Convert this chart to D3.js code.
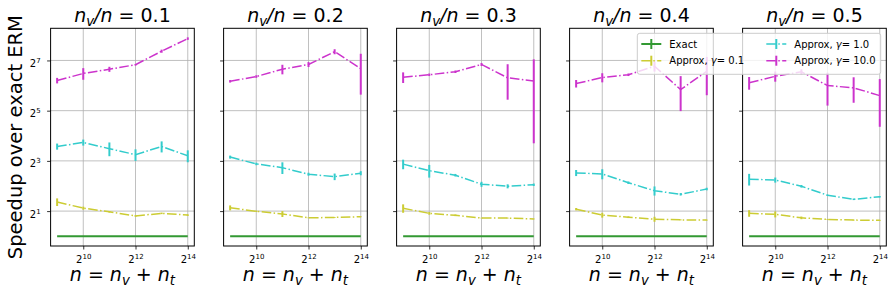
<!DOCTYPE html>
<html>
<head>
<meta charset="utf-8">
<script src="https://cdn.jsdelivr.net/npm/d3@7"></script>
<style>
  body { margin: 0; background: #fff; }
  svg { display: block; font-family: "DejaVu Sans", sans-serif; }
  svg text { font-family: "DejaVu Sans", sans-serif; }
</style>
</head>
<body>
<div id="chart"></div>
<script>
// n = n_v + n_t
var sizes = [512, 1024, 2048, 4096, 8192, 16384];
var ratios = ['0.1', '0.2', '0.3', '0.4', '0.5'];
var xTicks = [1024, 4096, 16384];
var yTicks = [2, 8, 32, 128];

// speedup over exact ERM, one row per n_v/n panel
var exactMean = [
  [1, 1, 1, 1, 1, 1], [1, 1, 1, 1, 1, 1], [1, 1, 1, 1, 1, 1],
  [1, 1, 1, 1, 1, 1], [1, 1, 1, 1, 1, 1]
];
var gamma01Mean = [
  [2.57, 2.17, 1.96, 1.75, 1.88, 1.79],
  [2.19, 1.99, 1.85, 1.66, 1.68, 1.71],
  [2.16, 1.88, 1.78, 1.65, 1.65, 1.61],
  [2.11, 1.79, 1.69, 1.60, 1.57, 1.56],
  [1.88, 1.83, 1.66, 1.59, 1.56, 1.55]
];
var gamma01Err = [
  [0.27, 0.09, 0.04, 0.04, 0.04, 0.04],
  [0.15, 0.04, 0.15, 0.02, 0.02, 0.02],
  [0.25, 0.07, 0.04, 0.02, 0.02, 0.02],
  [0.07, 0.12, 0.04, 0.11, 0.02, 0.02],
  [0.17, 0.15, 0.06, 0.02, 0.02, 0.02]
];
var gamma1Mean = [
  [11.9, 13.3, 11.2, 9.5, 11.9, 9.2],
  [8.88, 7.36, 6.63, 5.54, 5.17, 5.70],
  [7.31, 6.10, 5.39, 4.20, 3.97, 4.14],
  [5.74, 5.58, 4.38, 3.51, 3.18, 3.68],
  [4.82, 4.72, 3.97, 3.10, 2.77, 2.97]
];
var gamma1Err = [
  [1.0, 1.1, 2.1, 1.5, 1.8, 1.5],
  [0.37, 0.26, 1.06, 0.23, 0.47, 0.32],
  [0.96, 1.06, 0.19, 0.29, 0.22, 0.14],
  [0.48, 0.77, 0.15, 0.44, 0.11, 0.13],
  [0.77, 0.33, 0.14, 0.06, 0.06, 0.06]
];
var gamma10Mean = [
  [73.5, 89.3, 100.4, 113.8, 165.4, 234.0],
  [72.0, 82.1, 100.4, 114.6, 163.1, 101.8],
  [80.4, 86.2, 93.7, 114.6, 79.3, 72.5],
  [67.6, 79.9, 86.2, 109.1, 57.3, 95.0],
  [69.1, 82.7, 93.7, 64.0, 60.1, 48.5]
];
var gamma10Err = [
  [5.6, 14.2, 7, 2.4, 7, 8],
  [2.5, 2.9, 13.2, 7.9, 11.3, 52],
  [11.7, 3, 3.2, 4.8, 36, 59.5],
  [7, 10, 3, 15, 25.7, 46],
  [12, 11.5, 6.5, 27.2, 20.3, 28]
];

var zeroErr = exactMean.map(function (r) { return r.map(function () { return 0; }); });

var series = [
  { label: 'Exact', gamma: null, mean: exactMean, err: zeroErr, color: '#339933', dash: null, lw: 2 },
  { label: 'Approx, ', gamma: '0.1', mean: gamma01Mean, err: gamma01Err, color: '#cccc33', dash: '9.6,2.4,1.5,2.4', lw: 1.5 },
  { label: 'Approx, ', gamma: '1.0', mean: gamma1Mean, err: gamma1Err, color: '#33cccc', dash: '9.6,2.4,1.5,2.4', lw: 1.5 },
  { label: 'Approx, ', gamma: '10.0', mean: gamma10Mean, err: gamma10Err, color: '#cc33cc', dash: '9.6,2.4,1.5,2.4', lw: 1.5 }
];

var W = 895, H = 297;
var left0 = 50.6, step = 173, pw = 143.7, panelTop = 28.3, ph = 217.7;

var svg = d3.select('#chart').append('svg')
  .attr('width', W).attr('height', H);

var x = d3.scaleLog().base(2).domain([Math.pow(2, 8.75), Math.pow(2, 14.25)]).range([0, pw]);
var y = d3.scaleLog().base(2).domain([Math.pow(2, -0.39), Math.pow(2, 8.28)]).range([ph, 0]);

function powLabel(sel, exp) {
  sel.append('tspan').text('2');
  sel.append('tspan').attr('dy', -4).attr('font-size', '70%').text(exp);
}

ratios.forEach(function (ratio, p) {
  var g = svg.append('g')
    .attr('transform', 'translate(' + (left0 + p * step) + ',' + panelTop + ')');

  // grid
  g.selectAll('line.gx').data(xTicks).enter().append('line')
    .attr('x1', function (d) { return x(d); }).attr('x2', function (d) { return x(d); })
    .attr('y1', 0).attr('y2', ph)
    .attr('stroke', '#b0b0b0').attr('stroke-width', 0.8);
  g.selectAll('line.gy').data(yTicks).enter().append('line')
    .attr('y1', function (d) { return y(d); }).attr('y2', function (d) { return y(d); })
    .attr('x1', 0).attr('x2', pw)
    .attr('stroke', '#b0b0b0').attr('stroke-width', 0.8);

  // series
  series.forEach(function (s) {
    var pts = sizes.map(function (n, i) {
      return { n: n, v: s.mean[p][i], e: s.err[p][i] };
    });
    var line = d3.line()
      .x(function (d) { return x(d.n); })
      .y(function (d) { return y(d.v); });
    g.append('path').datum(pts)
      .attr('d', line)
      .attr('fill', 'none')
      .attr('stroke', s.color)
      .attr('stroke-width', s.lw)
      .attr('stroke-dasharray', s.dash);
    g.selectAll(null).data(pts.filter(function (d) { return d.e > 0; })).enter().append('line')
      .attr('x1', function (d) { return x(d.n); }).attr('x2', function (d) { return x(d.n); })
      .attr('y1', function (d) { return y(d.v + d.e); })
      .attr('y2', function (d) { return y(Math.max(d.v - d.e, 0.01)); })
      .attr('stroke', s.color).attr('stroke-width', 2);
  });

  // frame
  g.append('rect').attr('width', pw).attr('height', ph)
    .attr('fill', 'none').attr('stroke', '#000').attr('stroke-width', 1);

  // x axis
  var xa = g.append('g').attr('transform', 'translate(0,' + ph + ')')
    .call(d3.axisBottom(x).tickValues(xTicks).tickSize(3.5).tickFormat(function () { return ''; }))
    .attr('font-family', null);
  xa.select('.domain').remove();
  xa.selectAll('.tick line').attr('stroke-width', 0.8);
  xa.selectAll('.tick').append('text')
    .attr('fill', '#000').attr('font-size', 10).attr('y', 17).attr('text-anchor', 'middle')
    .each(function (d) { powLabel(d3.select(this), Math.round(Math.log2(d))); });

  // y axis
  var ya = g.append('g')
    .call(d3.axisLeft(y).tickValues(yTicks).tickSize(3.5).tickFormat(function () { return ''; }))
    .attr('font-family', null);
  ya.select('.domain').remove();
  ya.selectAll('.tick line').attr('stroke-width', 0.8);
  if (p === 0) {
    ya.selectAll('.tick').append('text')
      .attr('fill', '#000').attr('font-size', 10).attr('x', -10).attr('y', 6).attr('text-anchor', 'end')
      .each(function (d) { powLabel(d3.select(this), Math.round(Math.log2(d))); });
  }

  // title n_v/n = ratio
  var t = g.append('text').attr('x', pw / 2).attr('y', -6.6)
    .attr('text-anchor', 'middle').attr('font-size', 19);
  t.append('tspan').attr('font-style', 'italic').text('n');
  t.append('tspan').attr('font-style', 'italic').attr('font-size', '70%').attr('dy', 4).text('v');
  t.append('tspan').attr('dy', -4).attr('font-style', 'italic').text('/n');
  t.append('tspan').text(' = ' + ratio);

  // x label n = n_v + n_t
  var xl = g.append('text').attr('x', pw / 2).attr('y', 281 - panelTop)
    .attr('text-anchor', 'middle').attr('font-size', 19);
  xl.append('tspan').attr('font-style', 'italic').text('n');
  xl.append('tspan').text(' = ');
  xl.append('tspan').attr('font-style', 'italic').text('n');
  xl.append('tspan').attr('font-style', 'italic').attr('font-size', '70%').attr('dy', 4).text('v');
  xl.append('tspan').attr('dy', -4).text(' + ');
  xl.append('tspan').attr('font-style', 'italic').text('n');
  xl.append('tspan').attr('font-style', 'italic').attr('font-size', '70%').attr('dy', 4).text('t');
});

// y label
svg.append('text')
  .attr('transform', 'translate(22,' + (panelTop + ph / 2) + ') rotate(-90)')
  .attr('text-anchor', 'middle').attr('font-size', 19.5)
  .text('Speedup over exact ERM');

// legend
var leg = svg.append('g').attr('transform', 'translate(637.3,33.3)');
leg.append('rect').attr('width', 243.4).attr('height', 41)
  .attr('rx', 2.5).attr('fill', 'rgba(255,255,255,0.8)')
  .attr('stroke', '#cccccc').attr('stroke-width', 1);
var legPos = [[4, 10.7], [4, 27.4], [129, 10.7], [129, 27.4]];
series.forEach(function (s, i) {
  var e = leg.append('g').attr('transform', 'translate(' + legPos[i][0] + ',' + legPos[i][1] + ')');
  e.append('line').attr('x1', 0).attr('x2', 20).attr('y1', 0).attr('y2', 0)
    .attr('stroke', s.color).attr('stroke-width', s.lw).attr('stroke-dasharray', s.dash);
  e.append('line').attr('x1', 10).attr('x2', 10).attr('y1', -5).attr('y2', 5)
    .attr('stroke', s.color).attr('stroke-width', 2);
  var tx = e.append('text').attr('x', 28).attr('y', 3.6).attr('font-size', 10).attr('fill', '#000');
  tx.append('tspan').text(s.label);
  if (s.gamma) {
    tx.append('tspan').attr('font-style', 'italic').text('γ');
    tx.append('tspan').text('= ' + s.gamma);
  }
});
</script>
</body>
</html>
